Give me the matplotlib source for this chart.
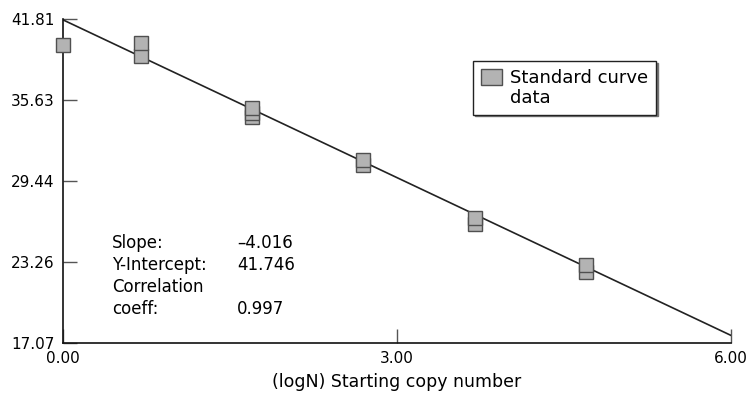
import matplotlib.pyplot as plt
from matplotlib.patches import Patch

plt.rcParams['font.family'] = ['DejaVu Sans']

# replicate Ct values
log_n = [0.0, 0.699, 0.699, 1.699, 1.699, 1.699, 2.699, 2.699, 3.699, 3.699, 4.699, 4.699]
ct = [39.86, 39.02, 39.98, 34.29, 34.6, 35.02, 30.63, 31.01, 26.12, 26.58, 22.46, 22.99]

slope = -4.016
intercept = 41.746
corr = 0.997

x_ticks = [0.0, 3.0, 6.0]
y_ticks = [17.07, 23.26, 29.44, 35.63, 41.81]

fig = plt.figure(figsize=(7.47, 4.01), dpi=100)
ax = fig.add_axes([0.0843, 0.1446, 0.8943, 0.808])

# fitted line
fit_x = [x_ticks[0], x_ticks[-1]]
fit_y = [intercept + slope * v for v in fit_x]
ax.plot(fit_x, fit_y, color='#222222', lw=1.2, zorder=2)

# replicates, plotted one by one so lower squares sit underneath
for xv, yv in zip(log_n, ct):
    ax.plot(xv, yv, marker='s', ms=9.4, mfc='#b3b3b3', mec='#505050', mew=1.0,
            ls='none', zorder=3, clip_on=False)

ax.set_xlim(x_ticks[0], x_ticks[-1])
ax.set_ylim(y_ticks[0], y_ticks[-1])
ax.set_xticks(x_ticks)
ax.set_xticklabels(['%.2f' % v for v in x_ticks])
ax.set_yticks(y_ticks)
ax.set_yticklabels(['%.2f' % v for v in y_ticks])
ax.tick_params(direction='in', length=10, width=1, color='#555555',
               labelsize=11, pad=6)
ax.tick_params(axis='x', pad=6)
for s in ['top', 'right']:
    ax.spines[s].set_visible(False)
for s in ['left', 'bottom']:
    ax.spines[s].set_linewidth(1.2)
    ax.spines[s].set_color('#111111')

ax.set_xlabel('(logN) Starting copy number', fontsize=12.5, labelpad=5)

# regression stats
rows = [('Slope:', '\u2013%.3f' % abs(slope)),
        ('Y-Intercept:', '%.3f' % intercept),
        ('Correlation', ''),
        ('coeff:', '%.3f' % corr)]
ys = [0.293, 0.225, 0.157, 0.090]
for (lab, val), yy in zip(rows, ys):
    ax.text(0.0734, yy, lab, transform=ax.transAxes, fontsize=12, va='baseline')
    if val:
        ax.text(0.2605, yy, val, transform=ax.transAxes, fontsize=12, va='baseline')

# legend: second line kept as its own entry so the swatch sits on the first line
swatch = Patch(facecolor='#b3b3b3', edgecolor='#505050', lw=1.0)
blank = Patch(facecolor='none', edgecolor='none')
leg = ax.legend([swatch, blank], ['Standard curve', 'data'], loc='upper left',
                bbox_to_anchor=(0.614, 0.870), borderaxespad=0, fontsize=13,
                fancybox=False, frameon=True, handlelength=1.17, handleheight=0.94,
                handletextpad=0.4, borderpad=0.45, labelspacing=0.08,
                shadow={'ox': 1.2, 'oy': -1.2, 'color': '0.45', 'alpha': 1})
leg.get_frame().set_edgecolor('#222222')
leg.get_frame().set_linewidth(1.0)
leg.get_frame().set_alpha(1)

fig.savefig('out.png', dpi=100)
